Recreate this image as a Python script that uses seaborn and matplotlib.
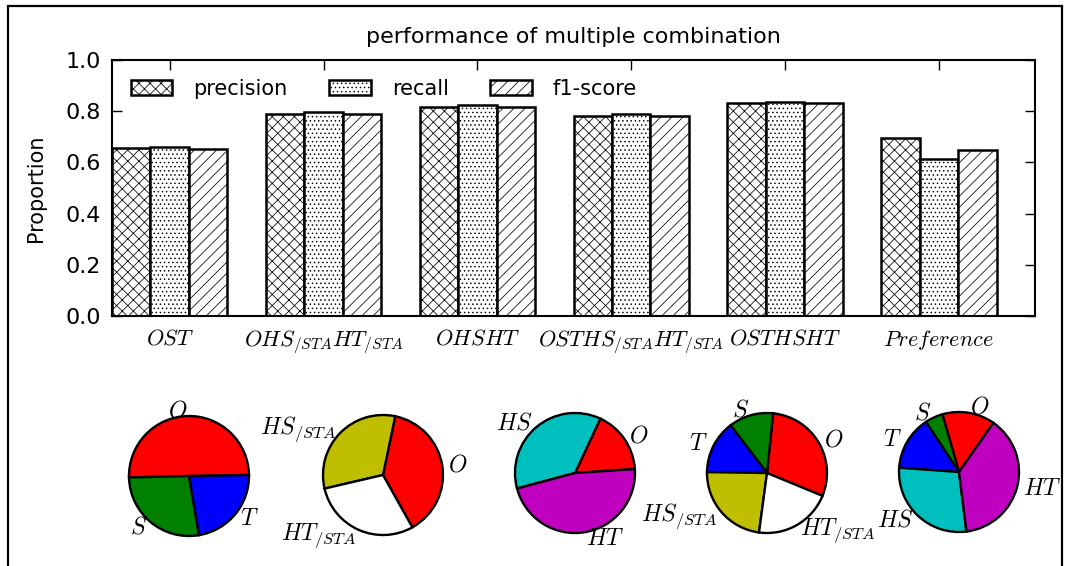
import numpy as np
import pandas as pd
import matplotlib
matplotlib.use("Agg")
import matplotlib.pyplot as plt
import seaborn as sns
from matplotlib.patches import Rectangle

combinations = [r"$OST$", r"$OHS_{/STA}HT_{/STA}$", r"$OHSHT$",
                r"$OSTHS_{/STA}HT_{/STA}$", r"$OSTHSHT$", r"$Preference$"]
precision = [0.655, 0.788, 0.818, 0.782, 0.831, 0.696]
recall = [0.661, 0.796, 0.824, 0.789, 0.835, 0.613]
f1_score = [0.652, 0.789, 0.818, 0.780, 0.831, 0.648]
metrics = ["precision", "recall", "f1-score"]

pie1_labels = [r"$O$", r"$S$", r"$T$"]
pie1_sizes = [0.501, 0.273, 0.226]
pie2_labels = [r"$O$", r"$HS_{/STA}$", r"$HT_{/STA}$"]
pie2_sizes = [0.386, 0.319, 0.295]
pie3_labels = [r"$O$", r"$HS$", r"$HT$"]
pie3_sizes = [0.170, 0.361, 0.469]
pie4_labels = [r"$O$", r"$S$", r"$T$", r"$HS_{/STA}$", r"$HT_{/STA}$"]
pie4_sizes = [0.296, 0.120, 0.144, 0.231, 0.209]
pie5_labels = [r"$O$", r"$S$", r"$T$", r"$HS$", r"$HT$"]
pie5_sizes = [0.142, 0.048, 0.146, 0.281, 0.383]

part_colors = {r"$O$": "r", r"$S$": "g", r"$T$": "b", r"$HS$": "c", r"$HT$": "m",
               r"$HS_{/STA}$": "y", r"$HT_{/STA}$": "w"}
hatches = ["xxx", "....", "///"]

sns.set_style("ticks", rc={"xtick.direction": "in", "ytick.direction": "in",
                           "xtick.top": True, "ytick.right": True,
                           "text.color": "black", "axes.labelcolor": "black",
                           "xtick.color": "black", "ytick.color": "black",
                           "axes.edgecolor": "black"})
plt.rcParams["font.family"] = ["DejaVu Sans"]
plt.rcParams["mathtext.fontset"] = "cm"
plt.rcParams["hatch.linewidth"] = 0.55

df = pd.DataFrame({
    "combination": combinations * 3,
    "metric": np.repeat(metrics, len(combinations)),
    "value": precision + recall + f1_score,
})

W, H = 1074, 566
fig = plt.figure(figsize=(W / 100, H / 100), dpi=100)
ax = fig.add_axes([112 / W, 1 - 316 / H, 923 / W, 256 / H])

sns.barplot(data=df, x="combination", y="value", hue="metric", hue_order=metrics,
            palette=["white"] * 3, edgecolor="black", linewidth=1.8, width=0.75,
            saturation=1, legend=False, ax=ax)
for container, hatch in zip(ax.containers, hatches):
    for bar in container:
        bar.set_hatch(hatch)

ax.set_xlim(-0.375, 5.625)
ax.set_ylim(0, 1.0)
ax.set_yticks(np.arange(0, 1.01, 0.2))
ax.set_yticklabels([f"{v:.1f}" for v in np.arange(0, 1.01, 0.2)])
ax.set_xlabel("")
ax.set_ylabel("Proportion", fontsize=15, labelpad=14)
ax.set_title("performance of multiple combination", fontsize=16, pad=12)
ax.tick_params(axis="y", labelsize=16, length=7, width=1, pad=8)
ax.tick_params(axis="x", labelsize=16, length=7, width=1, pad=9)
for sp in ax.spines.values():
    sp.set_linewidth(1.5)
    sp.set_visible(True)

ax.legend(ax.containers, metrics, loc="upper left", ncol=3, frameon=False,
          fontsize=15, handlelength=2.0, handleheight=0.8, handletextpad=1.0,
          columnspacing=2.0)

pies = [(pie1_labels, pie1_sizes), (pie2_labels, pie2_sizes), (pie3_labels, pie3_sizes),
        (pie4_labels, pie4_sizes), (pie5_labels, pie5_sizes)]
centers = [(189, 476), (383, 475), (575, 473), (767, 473), (959, 472)]
start_angles = [1, -60.7, 3.8, -22.4, 55]
r = 60
s = 2.6 * r
for (labels, sizes), (cx, cy), st in zip(pies, centers, start_angles):
    pax = fig.add_axes([(cx - s / 2) / W, 1 - (cy + s / 2) / H, s / W, s / H])
    pax.pie(sizes, labels=labels, colors=[part_colors[l] for l in labels],
            startangle=st, wedgeprops={"linewidth": 1.7, "edgecolor": "black"},
            textprops={"fontsize": 17})
    pax.set_xlim(-1.3, 1.3)
    pax.set_ylim(-1.3, 1.3)
    pax.set_aspect("equal")
    pax.axis("off")

fig.patches.append(Rectangle((8 / W, -0.05), (1062 - 8) / W, 1 - 6 / H + 0.05,
                             transform=fig.transFigure, fill=False,
                             edgecolor="black", linewidth=1.6))

fig.savefig("out.png", dpi=100)
